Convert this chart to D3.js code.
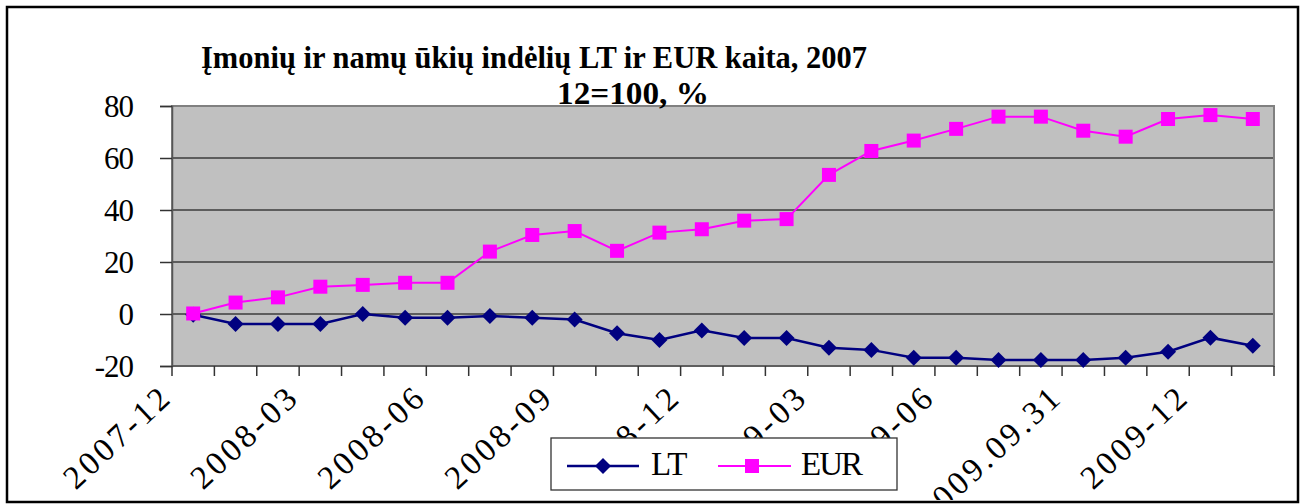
<!DOCTYPE html>
<html>
<head>
<meta charset="utf-8">
<script src="https://cdnjs.cloudflare.com/ajax/libs/d3/7.8.5/d3.min.js"></script>
<style>
  body { margin: 0; background: #fff; }
</style>
</head>
<body>
<div id="chart"></div>
<script>
// data
var categories = ["2007-12", "2008-01", "2008-02", "2008-03", "2008-04", "2008-05", "2008-06",
  "2008-07", "2008-08", "2008-09", "2008-10", "2008-11", "2008-12", "2009-01", "2009-02",
  "2009-03", "2009-04", "2009-05", "2009-06", "2009-07", "2009-08", "2009.09.31", "2009-10",
  "2009-11", "2009-12", "2010-01"];
var ltValues = [-0.3, -3.8, -3.8, -3.8, 0, -1.4, -1.4, -0.8, -1.4, -2.1, -7.4, -10, -6.3,
  -9.2, -9.2, -13, -13.8, -16.8, -16.8, -17.7, -17.7, -17.7, -16.8, -14.5, -9.1, -12.2];
var eurValues = [0.2, 4.4, 6.4, 10.5, 11.2, 12, 12, 24, 30.4, 31.9, 24.3, 31.3, 32.6,
  35.9, 36.5, 53.5, 62.7, 66.7, 71.2, 75.9, 75.9, 70.5, 68.2, 75, 76.5, 75];
var yTicks = [-20, 0, 20, 40, 60, 80];
var labelEvery = 3;
var titleLines = ["Įmonių ir namų ūkių indėlių LT ir EUR kaita, 2007", "12=100, %"];

var width = 1304, height = 504;
var plot = {left: 172, right: 1274, top: 106, bottom: 366};
var serif = 'Liberation Serif, Tinos, Nimbus Roman, serif';

var svg = d3.select('#chart').append('svg')
  .attr('width', width)
  .attr('height', height)
  .style('font-family', serif);

// outer frame
svg.append('rect')
  .attr('x', 7).attr('y', 7)
  .attr('width', 1291).attr('height', 495)
  .attr('fill', '#fff')
  .attr('stroke', '#000')
  .attr('stroke-width', 2.5);

var x = d3.scaleBand()
  .domain(categories)
  .range([plot.left, plot.right]);

var y = d3.scaleLinear()
  .domain([-20, 80])
  .range([plot.bottom, plot.top]);

function cx(d, i) { return x(categories[i]) + x.bandwidth() / 2; }

// plot background
svg.append('rect')
  .attr('x', plot.left).attr('y', plot.top)
  .attr('width', plot.right - plot.left)
  .attr('height', plot.bottom - plot.top)
  .attr('fill', '#c0c0c0');

// gridlines
svg.append('g')
  .selectAll('line')
  .data(yTicks.slice(1, -1))
  .enter().append('line')
  .attr('x1', plot.left).attr('x2', plot.right)
  .attr('y1', function(d) { return y(d); })
  .attr('y2', function(d) { return y(d); })
  .attr('stroke', '#3c3c3c')
  .attr('stroke-width', 1.5);

// plot border
svg.append('rect')
  .attr('x', plot.left).attr('y', plot.top)
  .attr('width', plot.right - plot.left)
  .attr('height', plot.bottom - plot.top)
  .attr('fill', 'none')
  .attr('stroke', '#808080')
  .attr('stroke-width', 2);

// y axis
var yAxis = d3.axisLeft(y)
  .tickValues(yTicks)
  .tickSize(12)
  .tickPadding(28)
  .tickFormat(d3.format('d'));

var yg = svg.append('g')
  .attr('transform', 'translate(' + plot.left + ',0)')
  .call(yAxis);
yg.attr('font-family', null).style('font-family', serif);
yg.select('.domain').attr('stroke', '#555').attr('stroke-width', 1.5);
yg.selectAll('.tick line').attr('stroke', '#333').attr('stroke-width', 1.5);
yg.selectAll('.tick text')
  .attr('font-size', 31)
  .attr('fill', '#000')
  .attr('letter-spacing', -1)
  .attr('x', -39)
  .attr('dy', '0.35em')
  .text(function(d) { return String(d); });

// x axis ticks at category boundaries
var xg = svg.append('g');
xg.append('line')
  .attr('x1', plot.left).attr('x2', plot.right)
  .attr('y1', plot.bottom).attr('y2', plot.bottom)
  .attr('stroke', '#555').attr('stroke-width', 1.5);
xg.selectAll('line.tk')
  .data(categories.concat(['end']))
  .enter().append('line')
  .attr('class', 'tk')
  .attr('x1', function(d, i) { return plot.left + i * x.step(); })
  .attr('x2', function(d, i) { return plot.left + i * x.step(); })
  .attr('y1', plot.bottom)
  .attr('y2', plot.bottom + 10)
  .attr('stroke', '#333').attr('stroke-width', 1.5);

// rotated category labels, every third (clipped by the frame like the original)
svg.append('defs').append('clipPath').attr('id', 'frameClip')
  .append('rect').attr('x', 9).attr('y', 9).attr('width', 1287).attr('height', 491);

svg.append('g')
  .attr('clip-path', 'url(#frameClip)')
  .selectAll('text')
  .data(categories.filter(function(d, i) { return i % labelEvery === 0; }))
  .enter().append('text')
  .attr('transform', function(d) {
    return 'translate(' + (x(d) + x.bandwidth() / 2 - 19) + ',' + 399 + ') rotate(-43)';
  })
  .attr('text-anchor', 'end')
  .attr('font-size', 33)
  .attr('letter-spacing', 3.5)
  .attr('fill', '#000')
  .text(function(d) { return d; });

// series
var line = d3.line()
  .x(cx)
  .y(function(d) { return y(d); });

svg.append('path')
  .datum(eurValues)
  .attr('d', line)
  .attr('fill', 'none')
  .attr('stroke', '#ff00ff')
  .attr('stroke-width', 2);

svg.append('path')
  .datum(ltValues)
  .attr('d', line)
  .attr('fill', 'none')
  .attr('stroke', '#000080')
  .attr('stroke-width', 2.5);

function diamond(px, py, r) {
  return 'M' + px + ',' + (py - r) + 'L' + (px + r) + ',' + py +
    'L' + px + ',' + (py + r) + 'L' + (px - r) + ',' + py + 'Z';
}

svg.append('g')
  .selectAll('path')
  .data(ltValues)
  .enter().append('path')
  .attr('d', function(d, i) { return diamond(cx(d, i), y(d), 8); })
  .attr('fill', '#000080');

svg.append('g')
  .selectAll('rect')
  .data(eurValues)
  .enter().append('rect')
  .attr('x', function(d, i) { return cx(d, i) - 7; })
  .attr('y', function(d) { return y(d) - 7; })
  .attr('width', 14)
  .attr('height', 14)
  .attr('fill', '#ff00ff');

// title
svg.append('text')
  .attr('x', 201).attr('y', 68)
  .attr('font-size', 32)
  .attr('font-weight', 'bold')
  .attr('textLength', 666)
  .attr('lengthAdjust', 'spacingAndGlyphs')
  .text(titleLines[0]);
svg.append('text')
  .attr('x', 557).attr('y', 104)
  .attr('font-size', 32)
  .attr('font-weight', 'bold')
  .attr('textLength', 152)
  .attr('lengthAdjust', 'spacingAndGlyphs')
  .text(titleLines[1]);

// legend
var legend = svg.append('g');
legend.append('rect')
  .attr('x', 551).attr('y', 438)
  .attr('width', 346).attr('height', 52)
  .attr('fill', '#fff')
  .attr('stroke', '#333')
  .attr('stroke-width', 1.3);

legend.append('line')
  .attr('x1', 567).attr('x2', 639).attr('y1', 466).attr('y2', 466)
  .attr('stroke', '#000080').attr('stroke-width', 2.5);
legend.append('path')
  .attr('d', diamond(603, 466, 8))
  .attr('fill', '#000080');
legend.append('text')
  .attr('x', 651).attr('y', 475)
  .attr('font-size', 33)
  .attr('letter-spacing', -1)
  .text('LT');

legend.append('line')
  .attr('x1', 718).attr('x2', 791).attr('y1', 466).attr('y2', 466)
  .attr('stroke', '#ff00ff').attr('stroke-width', 2);
legend.append('rect')
  .attr('x', 745).attr('y', 459).attr('width', 14).attr('height', 14)
  .attr('fill', '#ff00ff');
legend.append('text')
  .attr('x', 801).attr('y', 475)
  .attr('font-size', 33)
  .attr('letter-spacing', -2)
  .text('EUR');
</script>
</body>
</html>
